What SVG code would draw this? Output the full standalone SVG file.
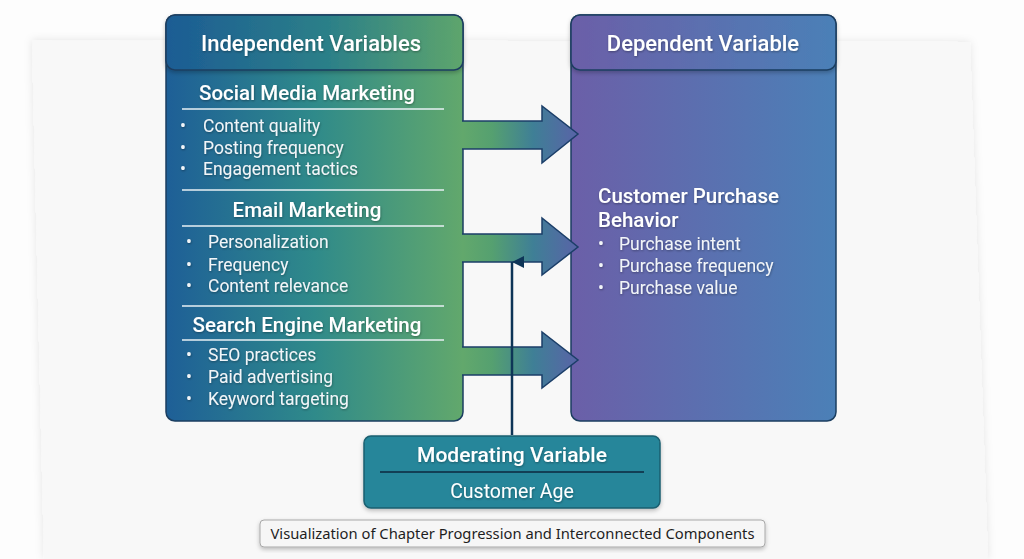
<svg xmlns="http://www.w3.org/2000/svg" width="1024" height="559" viewBox="0 0 1024 559">
<defs>
<linearGradient id="gIndep" x1="0" y1="0" x2="1" y2="0">
<stop offset="0" stop-color="#1e5f97"/>
<stop offset="0.5" stop-color="#2f8a8a"/>
<stop offset="1" stop-color="#62a86c"/>
</linearGradient>
<linearGradient id="gIndepHead" x1="0" y1="0" x2="1" y2="0">
<stop offset="0" stop-color="#1c5c94"/>
<stop offset="0.55" stop-color="#2c8088"/>
<stop offset="1" stop-color="#5ea56c"/>
</linearGradient>
<linearGradient id="gDep" x1="0" y1="0" x2="1" y2="0">
<stop offset="0" stop-color="#6b5fa8"/>
<stop offset="1" stop-color="#4b80b7"/>
</linearGradient>
<linearGradient id="gArrow" gradientUnits="userSpaceOnUse" x1="463" y1="0" x2="580" y2="0">
<stop offset="0" stop-color="#62a86c"/>
<stop offset="0.25" stop-color="#55a070"/>
<stop offset="0.6" stop-color="#3f7f96"/>
<stop offset="1" stop-color="#5a62a8"/>
</linearGradient>
<filter id="shadow" x="-10%" y="-10%" width="120%" height="130%">
<feDropShadow dx="0" dy="2" stdDeviation="2" flood-color="#000" flood-opacity="0.25"/>
</filter>
<filter id="paperShadow" x="-5%" y="-5%" width="110%" height="110%">
<feDropShadow dx="0" dy="0" stdDeviation="4" flood-color="#000" flood-opacity="0.10"/>
</filter>
<filter id="txtShadow" x="-10%" y="-30%" width="120%" height="160%">
<feDropShadow dx="0.5" dy="1" stdDeviation="0.8" flood-color="#000" flood-opacity="0.35"/>
</filter>
<marker id="upHead" viewBox="0 0 10 10" refX="5" refY="0" markerWidth="12" markerHeight="12" markerUnits="userSpaceOnUse" orient="auto-start-reverse">
<path d="M0,10 L5,0 L10,10 Z" fill="#0e3557"/>
</marker>
<style>
text{font-family:Roboto,"Noto Sans","Liberation Sans",sans-serif;fill:#ffffff}
.h1{font-size:22px;font-weight:500;text-anchor:middle}
.h2{font-size:20.5px;font-weight:500;text-anchor:middle}
.b{font-size:17.5px;font-weight:400;fill:#f2f5f8}
.sep{stroke:#e8f0f4;stroke-width:1.5}
.arrow{fill:url(#gArrow);stroke:#1b3e68;stroke-width:1.5;stroke-linejoin:miter}
.box{stroke:#1b3e60;stroke-width:1.5}
</style>
</defs>
<rect x="0" y="0" width="1024" height="559" fill="#fdfdfd"/>
<polygon points="32,40 970,42 988,559 44,559" fill="#f8f8f8" filter="url(#paperShadow)"/>

<g id="independent">
<rect class="box" x="166" y="15" width="297" height="406" rx="9" fill="url(#gIndep)"/>
<rect class="box" x="166" y="15" width="297" height="55" rx="9" fill="url(#gIndepHead)" filter="url(#shadow)"/>
<text class="h1" x="311" y="51" filter="url(#txtShadow)">Independent Variables</text>
<text class="h2" x="307" y="100" filter="url(#txtShadow)">Social Media Marketing</text>
<line class="sep" x1="182" y1="109" x2="444" y2="109"/>
<g filter="url(#txtShadow)">
<text class="b" x="180" y="132">•</text><text class="b" x="203" y="132">Content quality</text>
<text class="b" x="180" y="154">•</text><text class="b" x="203" y="154">Posting frequency</text>
<text class="b" x="180" y="175">•</text><text class="b" x="203" y="175">Engagement tactics</text>
</g>
<line class="sep" x1="182" y1="190" x2="444" y2="190"/>
<text class="h2" x="307" y="217" filter="url(#txtShadow)">Email Marketing</text>
<line class="sep" x1="182" y1="226" x2="444" y2="226"/>
<g filter="url(#txtShadow)">
<text class="b" x="186" y="248">•</text><text class="b" x="208" y="248">Personalization</text>
<text class="b" x="186" y="271">•</text><text class="b" x="208" y="271">Frequency</text>
<text class="b" x="186" y="292">•</text><text class="b" x="208" y="292">Content relevance</text>
</g>
<line class="sep" x1="182" y1="306" x2="444" y2="306"/>
<text class="h2" x="307" y="332" filter="url(#txtShadow)">Search Engine Marketing</text>
<line class="sep" x1="182" y1="340" x2="444" y2="340"/>
<g filter="url(#txtShadow)">
<text class="b" x="186" y="361">•</text><text class="b" x="208" y="361">SEO practices</text>
<text class="b" x="186" y="383">•</text><text class="b" x="208" y="383">Paid advertising</text>
<text class="b" x="186" y="405">•</text><text class="b" x="208" y="405">Keyword targeting</text>
</g>
</g>

<g id="dependent">
<rect class="box" x="571" y="15" width="265" height="406" rx="9" fill="url(#gDep)"/>
<rect class="box" x="571" y="15" width="265" height="55" rx="9" fill="url(#gDep)" filter="url(#shadow)"/>
<text class="h1" x="703" y="51" filter="url(#txtShadow)">Dependent Variable</text>
<g filter="url(#txtShadow)">
<text x="598" y="203" style="font-size:20.5px;font-weight:500">Customer Purchase</text>
<text x="598" y="227" style="font-size:20.5px;font-weight:500">Behavior</text>
<text class="b" x="598" y="250">•</text><text class="b" x="619" y="250">Purchase intent</text>
<text class="b" x="598" y="272">•</text><text class="b" x="619" y="272">Purchase frequency</text>
<text class="b" x="598" y="294">•</text><text class="b" x="619" y="294">Purchase value</text>
</g>
</g>

<g id="moderating">
<rect x="364" y="436" width="296" height="72" rx="7" fill="#25869a" stroke="#1a5f70" stroke-width="1.5" filter="url(#shadow)"/>
<text class="h1" x="512" y="462" filter="url(#txtShadow)" style="font-size:21px">Moderating Variable</text>
<line x1="380" y1="472" x2="644" y2="472" stroke="#123f55" stroke-width="2"/>
<text x="512" y="498" filter="url(#txtShadow)" style="font-size:19.5px;text-anchor:middle">Customer Age</text>
</g>

<g id="connectors">
<path class="arrow" d="M462,121 L542,121 L542,106 L578,134 L542,163 L542,149 L462,149"/>
<path class="arrow" d="M462,234 L542,234 L542,218 L578,247 L542,275 L542,262 L462,262"/>
<path class="arrow" d="M462,347 L542,347 L542,332 L578,360 L542,388 L542,375 L462,375"/>
<line x1="512" y1="435" x2="512" y2="262" stroke="#0e3557" stroke-width="2.5" marker-end="url(#upHead)"/>
</g>

<g id="caption">
<rect x="260" y="520" width="505" height="27" rx="4" fill="#f6f6f6" stroke="#a8a8a8" stroke-width="1" filter="url(#shadow)"/>
<text x="512.5" y="539" style="font-family:'Noto Sans','Open Sans',sans-serif;font-size:15px;fill:#1e1e1e;text-anchor:middle" textLength="484" lengthAdjust="spacingAndGlyphs">Visualization of Chapter Progression and Interconnected Components</text>
</g>
</svg>
